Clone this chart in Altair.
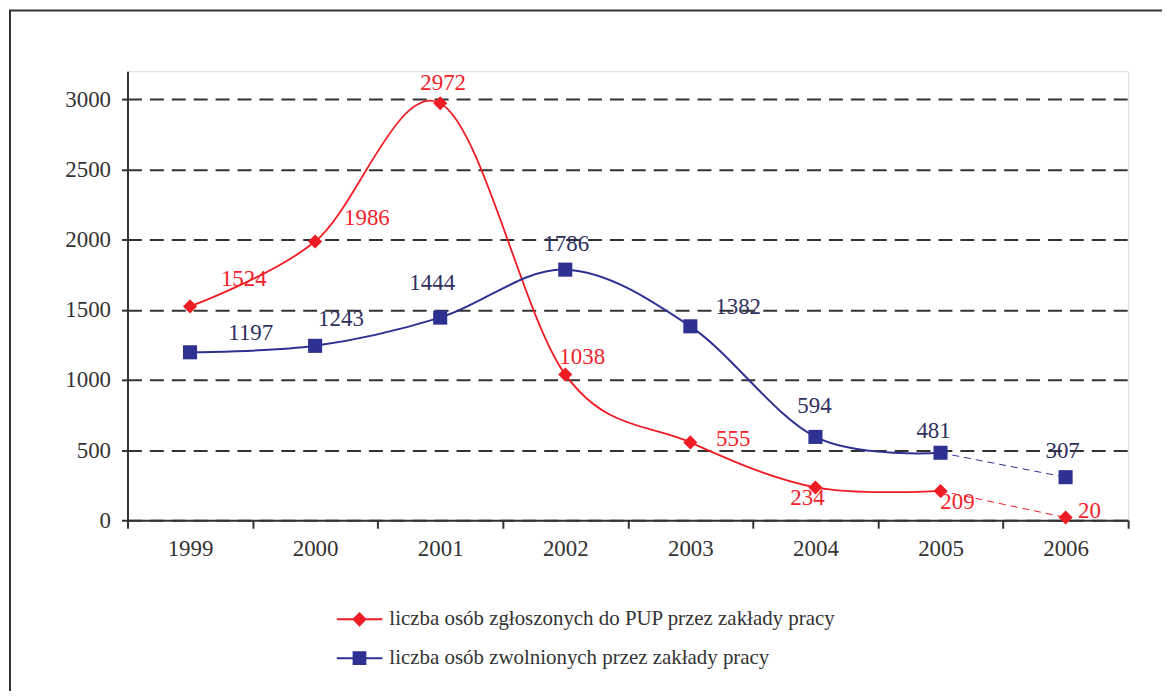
import altair as alt
import pandas as pd

years = ["1999", "2000", "2001", "2002", "2003", "2004", "2005", "2006"]
zgloszone = [1524, 1986, 2972, 1038, 555, 234, 209, 20]
zwolnione = [1197, 1243, 1444, 1786, 1382, 594, 481, 307]
series_names = [
    "liczba osób zgłoszonych do PUP przez zakłady pracy",
    "liczba osób zwolnionych przez zakłady pracy",
]
y_ticks = [0, 500, 1000, 1500, 2000, 2500, 3000]

# ---- styles ----
RED = "#EE1C25"
BLUE = "#2E3192"
RED_TXT = "#F0232A"
BLUE_TXT = "#30305F"
AXIS = "#333333"
FONT = "Liberation Serif"

# label offsets (dx, dy) in pixels per series, per year
label_offsets = [
    [(54, -27), (52, -24), (3, -20), (17, -18), (43, -3), (-8, 11), (17, 11), (24, -6)],
    [(61, -19), (26, -27), (-8, -35), (1, -26), (48, -19), (-1, -31), (-7, -22), (-3, -26)],
]

rows = []
for s, vals in zip(series_names, [zgloszone, zwolnione]):
    for yr, v in zip(years, vals):
        rows.append({"year": yr, "value": v, "series": s})
df = pd.DataFrame(rows)

x_enc = alt.X(
    "year:O",
    scale=alt.Scale(type="band", domain=years, paddingInner=0, paddingOuter=0),
    axis=alt.Axis(
        title=None, labelAngle=0, tickBand="extent", domainColor=AXIS, domainWidth=2,
        tickColor=AXIS, tickWidth=2, tickSize=8, labelFont=FONT, labelFontSize=23,
        labelColor=AXIS, labelPadding=9, grid=False,
    ),
)
y_enc = alt.Y(
    "value:Q",
    scale=alt.Scale(domain=[0, 3200], nice=False, zero=True),
    axis=alt.Axis(
        title=None, values=y_ticks, format="d", grid=True, gridDash=[14, 8], gridColor=AXIS,
        gridWidth=2, domainColor=AXIS, domainWidth=2, tickColor=AXIS, tickWidth=2,
        tickSize=6, labelFont=FONT, labelFontSize=23, labelColor=AXIS, labelPadding=11,
    ),
)

frame = alt.Chart(alt.Data(values=[{"a": 1}])).mark_rect(
    fillOpacity=0, stroke=AXIS, strokeWidth=2
).encode(
    x=alt.value(-118), x2=alt.value(1300), y=alt.value(-61), y2=alt.value(900)
)

layers = [frame]
colors = [RED, BLUE]
txt_colors = [RED_TXT, BLUE_TXT]
shapes = ["diamond", "square"]
widths = [1.8, 2]
base = alt.Chart(df)
for i, s in enumerate(series_names):
    sel = alt.FieldEqualPredicate(field="series", equal=s)
    solid = base.mark_line(interpolate="cardinal", color=colors[i], strokeWidth=widths[i]).encode(
        x=x_enc, y=y_enc
    ).transform_filter(sel).transform_filter(
        alt.FieldOneOfPredicate(field="year", oneOf=years[:-1])
    )
    dashed = base.mark_line(color=colors[i], strokeWidth=1, strokeDash=[7, 5]).encode(
        x=x_enc, y=y_enc
    ).transform_filter(sel).transform_filter(
        alt.FieldOneOfPredicate(field="year", oneOf=years[-2:])
    )
    pts = base.mark_point(shape=shapes[i], filled=True, size=200, color=colors[i], opacity=1).encode(
        x=x_enc, y=y_enc
    ).transform_filter(sel)
    layers += [solid, dashed, pts]

for i, s in enumerate(series_names):
    sel = alt.FieldEqualPredicate(field="series", equal=s)
    for j, yr in enumerate(years):
        dx, dy = label_offsets[i][j]
        t = base.mark_text(
            font=FONT, fontSize=23, color=txt_colors[i], dx=dx, dy=dy,
            align="center", baseline="middle",
        ).encode(x=x_enc, y=y_enc, text=alt.Text("value:Q", format="d")).transform_filter(sel).transform_filter(
            alt.FieldEqualPredicate(field="year", equal=yr)
        )
        layers.append(t)

leg_red = "M-1,-0.045L1,-0.045L1,0.045L-1,0.045Z M0,-0.32L0.32,0L0,0.32L-0.32,0Z"
leg_blue = "M-1,-0.045L1,-0.045L1,0.045L-1,0.045Z M-0.3,-0.3L0.3,-0.3L0.3,0.3L-0.3,0.3Z"
leg = alt.Legend(
    title=None, orient="none", legendX=210, legendY=531, symbolSize=2116,
    clipHeight=39, rowPadding=0, labelOffset=7, labelFont=FONT, labelFontSize=21,
    labelColor=AXIS, labelLimit=0, symbolStrokeWidth=0, padding=0,
)
legend_layer = base.mark_point(filled=True, opacity=1, size=2116).encode(
    x=x_enc,
    y=y_enc,
    color=alt.Color("series:N", scale=alt.Scale(domain=series_names, range=colors), legend=leg),
    shape=alt.Shape("series:N", scale=alt.Scale(domain=series_names, range=[leg_red, leg_blue]), legend=leg),
).transform_filter("false")
layers.append(legend_layer)

chart = alt.layer(*layers).properties(
    width=1005,
    height=451,
    autosize=alt.AutoSizeParams(type="none"),
    padding={"left": 120, "top": 62, "right": 34, "bottom": 170},
).configure_view(stroke=None).configure(background="white")

chart.save("out.html", embed_options={"renderer": "svg", "actions": False})
